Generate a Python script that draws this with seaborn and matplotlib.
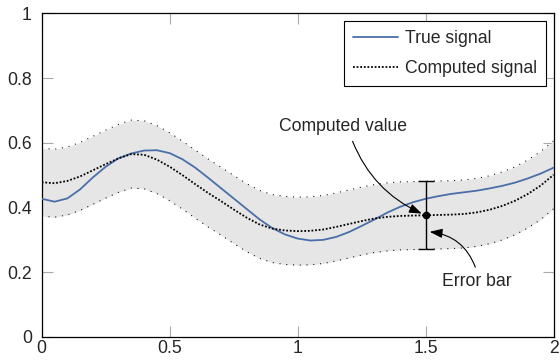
import numpy as np
import pandas as pd
import matplotlib
matplotlib.use("Agg")
import matplotlib.pyplot as plt
import seaborn as sns

sns.set_style("ticks")
plt.rcParams['font.family'] = ['Liberation Sans', 'DejaVu Sans']
plt.rcParams['font.size'] = 12.7

# values
x_vals = [0.00, 0.05, 0.10, 0.15, 0.20, 0.25, 0.30, 0.35, 0.40, 0.45,
          0.50, 0.55, 0.60, 0.65, 0.70, 0.75, 0.80, 0.85, 0.90, 0.95,
          1.00, 1.05, 1.10, 1.15, 1.20, 1.25, 1.30, 1.35, 1.40, 1.45,
          1.50, 1.55, 1.60, 1.65, 1.70, 1.75, 1.80, 1.85, 1.90, 1.95, 2.00]

true_signal = [0.427, 0.418, 0.428, 0.456, 0.493, 0.526, 0.552, 0.567, 0.576, 0.577,
               0.568, 0.549, 0.523, 0.492, 0.460, 0.428, 0.396, 0.364, 0.337, 0.317,
               0.304, 0.298, 0.300, 0.309, 0.324, 0.343, 0.363, 0.384, 0.402, 0.416,
               0.427, 0.435, 0.442, 0.447, 0.452, 0.459, 0.467, 0.477, 0.490, 0.505, 0.523]

computed_signal = [0.478, 0.475, 0.482, 0.496, 0.515, 0.534, 0.552, 0.565, 0.563, 0.548,
                   0.526, 0.500, 0.472, 0.445, 0.420, 0.394, 0.369, 0.348, 0.335, 0.329,
                   0.327, 0.328, 0.332, 0.340, 0.349, 0.358, 0.366, 0.371, 0.374, 0.375,
                   0.376, 0.377, 0.378, 0.380, 0.385, 0.393, 0.405, 0.421, 0.442, 0.468, 0.501]

band_hi = [0.583, 0.580, 0.587, 0.601, 0.620, 0.639, 0.657, 0.670, 0.668, 0.653,
           0.631, 0.605, 0.577, 0.550, 0.525, 0.499, 0.474, 0.453, 0.440, 0.434,
           0.432, 0.433, 0.437, 0.445, 0.454, 0.463, 0.471, 0.476, 0.479, 0.480,
           0.481, 0.482, 0.483, 0.485, 0.490, 0.498, 0.510, 0.526, 0.547, 0.573, 0.606]

band_lo = [0.373, 0.370, 0.377, 0.391, 0.410, 0.429, 0.447, 0.460, 0.458, 0.443,
           0.421, 0.395, 0.367, 0.340, 0.315, 0.289, 0.264, 0.243, 0.230, 0.224,
           0.222, 0.223, 0.227, 0.235, 0.244, 0.253, 0.261, 0.266, 0.269, 0.270,
           0.271, 0.272, 0.273, 0.275, 0.280, 0.288, 0.300, 0.316, 0.337, 0.363, 0.396]

err_x = [1.5]
err_y = [0.376]
err_half = [0.105]

x_ticks = [0, 0.5, 1, 1.5, 2]
x_tick_labels = ['0', '0.5', '1', '1.5', '2']
y_ticks = [0, 0.2, 0.4, 0.6, 0.8, 1]
y_tick_labels = ['0', '0.2', '0.4', '0.6', '0.8', '1']

df = pd.DataFrame({'x': x_vals, 'true': true_signal, 'computed': computed_signal,
                   'hi': band_hi, 'lo': band_lo})

fig = plt.figure(figsize=(5.6, 3.6), dpi=100)
ax = fig.add_axes([0.0745, 0.064, 0.914, 0.899])

ax.fill_between(df['x'], df['lo'], df['hi'], color='#e6e6e6', lw=0, zorder=1)
sns.lineplot(data=df, x='x', y='hi', ax=ax, color='black', lw=0.75,
             linestyle=(0, (1, 5.5)), zorder=2)
sns.lineplot(data=df, x='x', y='lo', ax=ax, color='black', lw=0.75,
             linestyle=(0, (1, 5.5)), zorder=2)
sns.lineplot(data=df, x='x', y='true', ax=ax, color='#4a6fa8', lw=1.3,
             label='True signal', zorder=3)
sns.lineplot(data=df, x='x', y='computed', ax=ax, color='black', lw=1.3,
             linestyle=(0, (1, 1)), label='Computed signal', zorder=4)

ax.errorbar(err_x, err_y, yerr=err_half, fmt='o', color='black', ms=4.5,
            capsize=6, elinewidth=1, capthick=1, zorder=5)

arrow_kw = dict(arrowstyle='-|>,head_length=0.6,head_width=0.22', color='black',
                lw=0.8, shrinkA=2, shrinkB=3)
ax.annotate('Computed value', xy=(1.5, 0.376), xytext=(1.176, 0.649),
            ha='center', va='center',
            arrowprops=dict(connectionstyle='arc3,rad=0.22', relpos=(0.56, 0), **arrow_kw))
ax.annotate('Error bar', xy=(1.5, 0.326), xytext=(1.702, 0.171),
            ha='center', va='center',
            arrowprops=dict(connectionstyle='arc3,rad=0.35', relpos=(0.5, 1), **arrow_kw))

ax.set_xlim(0, 2)
ax.set_ylim(0, 1)
ax.set_xticks(x_ticks)
ax.set_xticklabels(x_tick_labels)
ax.set_yticks(y_ticks)
ax.set_yticklabels(y_tick_labels)
ax.set_xlabel('')
ax.set_ylabel('')
ax.tick_params(direction='in', length=8, width=0.8, color='#aaaaaa',
               top=True, right=True)
ax.tick_params(axis='y', pad=7)
ax.tick_params(axis='x', pad=2.5)
for s in ax.spines.values():
    s.set_color('black')
    s.set_linewidth(0.9)

leg = ax.legend(loc='upper right', frameon=True, fancybox=False, framealpha=1,
                edgecolor='black', borderaxespad=0.45, borderpad=0.5,
                handlelength=2.55, handletextpad=0.4, labelspacing=0.75)
leg.get_frame().set_linewidth(0.8)

fig.savefig('out.png', dpi=100)
